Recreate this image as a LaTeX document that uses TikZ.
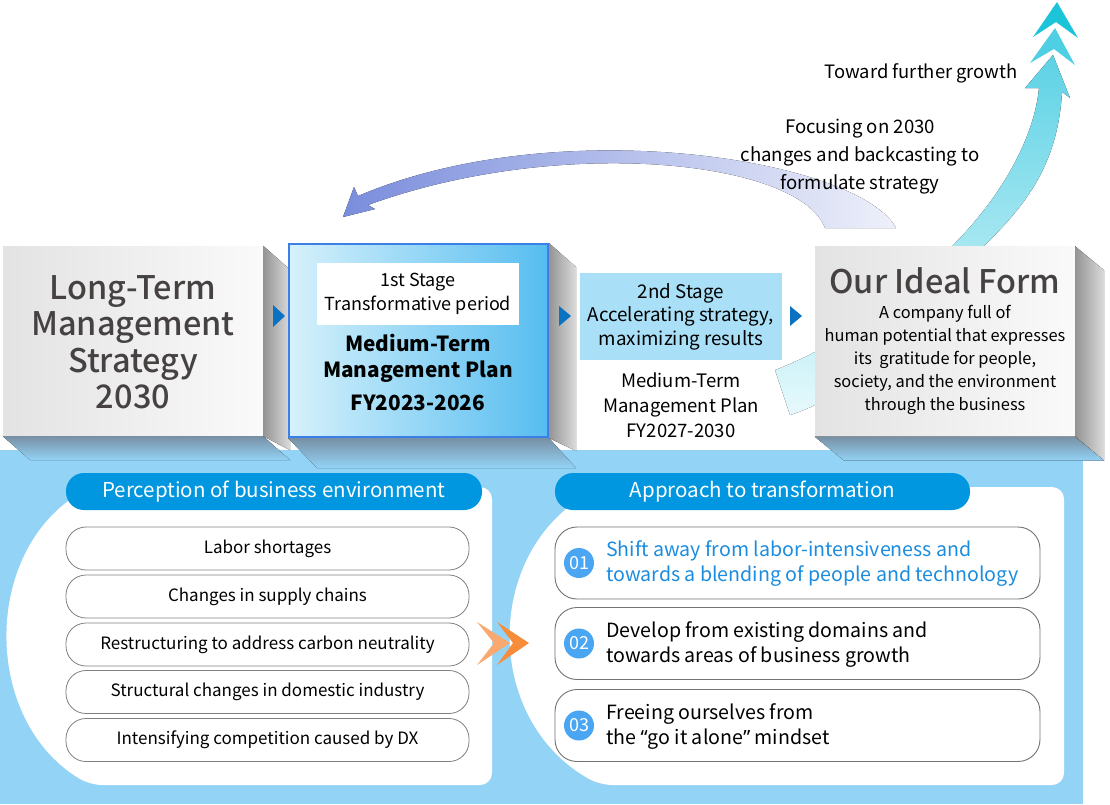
\documentclass[tikz,border=0pt]{standalone}
\usepackage{fontspec}
\setmainfont{Noto Sans CJK JP}
\newfontfamily\medfont{Noto Sans CJK JP Medium}
\newfontfamily\quotefont{Noto Sans}
\usepackage{xcolor}
\usepackage{tikz}

\definecolor{panel}{HTML}{93D3F6}
\definecolor{shadowtop}{HTML}{7890A4}
\definecolor{pillblue}{HTML}{0096E0}
\definecolor{numblue}{HTML}{4AA6F2}
\definecolor{textblue}{HTML}{1B8CE0}
\definecolor{tipblue}{HTML}{0B72C2}
\definecolor{darktext}{HTML}{464242}
\definecolor{stageblue}{HTML}{A9E0F7}
\definecolor{planborder}{HTML}{3B80E6}
\definecolor{planlight}{HTML}{D6F1FB}
\definecolor{plandark}{HTML}{56BDF0}
\definecolor{backarrow}{HTML}{7A8DDC}
\definecolor{backfade}{HTML}{EEF0FA}
\definecolor{growtop}{HTML}{1CC4DA}
\definecolor{growchev}{HTML}{4FCFE3}
\definecolor{growmid}{HTML}{5DD2E5}
\definecolor{growhalf}{HTML}{B8EDF6}
\definecolor{growfade}{HTML}{E6F9FC}
\definecolor{chevlight}{HTML}{F9A96F}
\definecolor{chevdark}{HTML}{F78C3A}

\begin{document}
\begin{tikzpicture}[x=1pt, y=-1pt, every node/.style={inner sep=0pt},
        frontbox/.style={left color=black!11, right color=black!2,
            minimum width=260pt, minimum height=190pt},
        sideface/.style={left color=black!42, right color=black!14},
        baseface/.style={top color=shadowtop, bottom color=panel},
        itembox/.style={draw=black!50, line width=0.8pt, fill=white,
            rounded corners=20pt, minimum width=403pt, minimum height=43pt,
            font=\fontsize{17}{20}\selectfont},
        stepbox/.style={draw=black!55, line width=0.9pt, fill=white,
            rounded corners=22pt, minimum width=485pt, minimum height=72pt},
        numdot/.style={circle, fill=numblue, minimum size=30pt, text=white,
            font=\fontsize{18}{18}\selectfont},
        pill/.style={fill=pillblue, rounded corners=18pt, minimum height=37pt,
            text=white, font=\fontsize{20.5}{20.5}\selectfont},
        steptext/.style={anchor=west, align=left, font=\fontsize{19.6}{25}\selectfont}]

    % canvas and panel
    \useasboundingbox (0,0) rectangle (1110,804);
    \fill[white] (0,0) rectangle (1110,804);
    \fill[panel] (0,450) rectangle (1083,804);

    % growth arrow (behind the boxes)
    \coordinate (growtail) at (775,370);
    \coordinate (growhead) at (1053,55);
    \fill[top color=growmid, middle color=growhalf, bottom color=growfade] (growtail)
        .. controls (860,338) and (930,270) .. (960,238)
        .. controls (1010,185) and (1035,130) .. (1039,88)
        -- (1025,88) -- (growhead) -- (1070,98) -- (1062,92)
        .. controls (1058,160) and (1030,200) .. (990,240)
        .. controls (930,300) and (870,390) .. (790,415) -- cycle;
    \fill[growchev] (1055,28) -- (1075,65) -- (1054,49) -- (1030,63) -- cycle;
    \fill[growtop] (1057,2) -- (1078,38) -- (1056,22) -- (1033,37) -- cycle;

    % backcasting arrow
    \coordinate (backtail) at (896,228);
    \coordinate (backhead) at (343,217);
    \fill[left color=backarrow, right color=backfade] (backtail)
        .. controls (860,160) and (560,110) .. (358,196)
        -- (354,187) -- (backhead) -- (375,209) -- (368,205)
        .. controls (560,135) and (800,160) .. (825,228) -- cycle;

    \node[font=\fontsize{18.4}{18}\selectfont, anchor=east] (further) at (1018,73)
        {Toward further growth};
    \node[font=\fontsize{18.6}{28}\selectfont, align=center] (backcast) at (860,157)
        {Focusing on 2030\\changes and backcasting to\\formulate strategy};

    % long-term strategy
    \node[frontbox] (longterm) at (133,341) {};
    \fill[sideface] (longterm.north east) -- ++(27,24)
        -- ([shift={(27,14)}]longterm.south east) -- (longterm.south east) -- cycle;
    \fill[baseface] (longterm.south west) -- (longterm.south east)
        -- ++(27,24) -- ++(-260,0) -- cycle;
    \node[font=\medfont\fontsize{32.5}{36.5}\selectfont, text=darktext, align=center]
        (longtext) at (133,342) {Long-Term\\Management\\Strategy\\2030};

    % first stage
    \node[left color=planlight, right color=plandark, draw=planborder, line width=2pt,
        minimum width=259pt, minimum height=193pt] (plan1) at (418.5,340.5) {};
    \fill[baseface] (plan1.south west) -- (plan1.south east)
        -- ++(27,30) -- ++(-259,0) -- cycle;
    \fill[sideface] (plan1.north east) -- ++(27,24)
        -- ([shift={(27,13)}]plan1.south east) -- (plan1.south east) -- cycle;
    \node[fill=white, minimum width=202pt, minimum height=62pt, align=center,
        font=\fontsize{18}{23.5}\selectfont] (stage1) at (418,294)
        {1st Stage\\Transformative period};
    \node[font=\bfseries\fontsize{20.8}{25.5}\selectfont, align=center] (plan1name)
        at (418,358.5) {Medium-Term\\Management Plan};
    \node[font=\bfseries\fontsize{20.8}{25}\selectfont] (plan1year) at (418,403)
        {FY2023-2026};

    % second stage
    \node[fill=stageblue, minimum width=202pt, minimum height=87pt, align=center,
        font=\fontsize{18.8}{23.5}\selectfont] (stage2) at (681,316.5)
        {2nd Stage\\Accelerating strategy,\\maximizing results};
    \node[font=\fontsize{18.5}{25}\selectfont, align=center] (plan2) at (681,405)
        {Medium-Term\\Management Plan\\FY2027-2030};

    % ideal form
    \node[frontbox] (ideal) at (945,341.5) {};
    \fill[sideface] (ideal.north east) -- ++(29,24)
        -- ([shift={(29,24)}]ideal.south east) -- (ideal.south east) -- cycle;
    \fill[baseface] (ideal.south west) -- (ideal.south east)
        -- ++(29,24) -- ++(-260,0) -- cycle;
    \node[font=\medfont\fontsize{32.5}{32}\selectfont, text=darktext] (idealname)
        at (945,281) {Our Ideal Form};
    \node[font=\fontsize{16.4}{23}\selectfont, align=center] (idealtext) at (945,360)
        {A company full of\\human potential that expresses\\its~ gratitude for people,\\
         society, and the environment\\through the business};

    % stage pointers
    \fill[tipblue] (273,305) -- (285,316) -- (273,327) -- cycle;
    \fill[tipblue] (559,306) -- (571,316) -- (559,326) -- cycle;
    \fill[tipblue] (790,306) -- (802,316) -- (790,326) -- cycle;

    % perception card
    \fill[white, rounded corners=12pt] (90,785) .. controls (-18,720) and (-18,552) .. (90,487)
        -- (492,487) -- (492,785) -- cycle;
    \node[pill, minimum width=416pt] (percep) at (274,491.5)
        {Perception of business environment};
    \node[itembox] (labor) at (267.5,548.5) {Labor shortages};
    \node[itembox] (supply) at (267.5,596.5) {Changes in supply chains};
    \node[itembox] (carbon) at (267.5,644.5) {Restructuring to address carbon neutrality};
    \node[itembox] (domestic) at (267.5,692) {Structural changes in domestic industry};
    \node[itembox] (dx) at (267.5,740) {Intensifying competition caused by DX};

    % transformation card
    \fill[white, rounded corners=12pt] (600,785) .. controls (483,720) and (483,552) .. (600,487)
        -- (1064,487) -- (1064,785) -- cycle;
    \node[pill, minimum width=415pt] (approach) at (762.5,491.5)
        {Approach to transformation};
    \node[stepbox] (shift) at (797.5,563) {};
    \node[stepbox] (develop) at (797.5,643.5) {};
    \node[stepbox] (freeing) at (797.5,725.5) {};
    \node[numdot] (n1) at (579,563) {01};
    \node[numdot] (n2) at (579,643.5) {02};
    \node[numdot] (n3) at (579,725.5) {03};
    \node[steptext, text=textblue] (shifttext) at (606,564)
        {Shift away from labor-intensiveness and\\towards a blending of people and technology};
    \node[steptext] (developtext) at (606,644.5)
        {Develop from existing domains and\\towards areas of business growth};
    \node[steptext] (freeingtext) at (606,726.5)
        {Freeing ourselves from\\the {\quotefont “}go it alone{\quotefont ”} mindset};

    % chevrons between cards
    \fill[chevlight] (477,622) -- (510,643) -- (477,665) -- (494,643) -- cycle;
    \fill[chevdark] (497,622) -- (529,643) -- (497,665) -- (513,643) -- cycle;
\end{tikzpicture}
\end{document}
